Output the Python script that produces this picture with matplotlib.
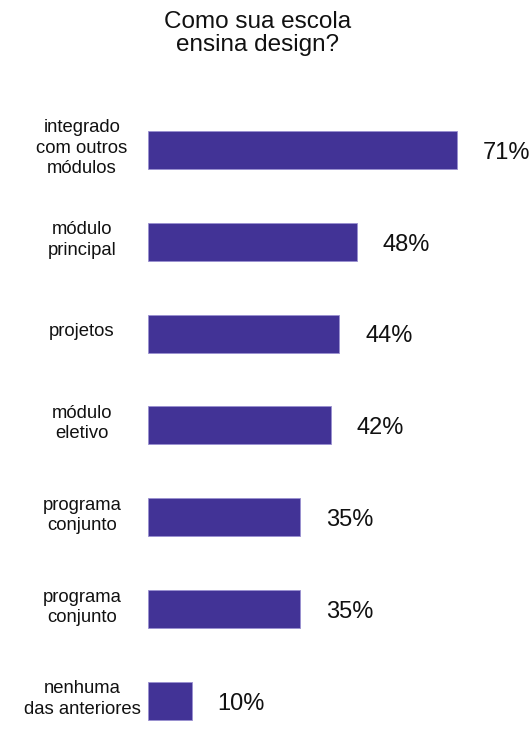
import matplotlib

matplotlib.use("Agg")
import matplotlib.pyplot as plt

plt.rcParams["font.family"] = ["Liberation Sans", "DejaVu Sans"]

categories = [
    "integrado\ncom outros\nmódulos",
    "módulo\nprincipal",
    "projetos",
    "módulo\neletivo",
    "programa\nconjunto",
    "programa\nconjunto",
    "nenhuma\ndas anteriores",
]
values = [71, 48, 44, 42, 35, 35, 10]
value_labels = ["71%", "48%", "44%", "42%", "35%", "35%", "10%"]

BAR_COLOR = "#423396"
W, H = 532, 733
PX_PER_UNIT = 4.35  # pixels per percentage point
ROW = 91.8          # pixels between bar centres
TOP = 150           # pixel y of first bar centre

fig = plt.figure(figsize=(W / 100, H / 100), dpi=100)
left_px, top_px = 148, 100
ax = fig.add_axes([left_px / W, 0, 1 - left_px / W, 1 - top_px / H])
ax.set_xlim(0, (W - left_px) / PX_PER_UNIT)
ax.set_ylim((H - TOP) / ROW, (top_px - TOP) / ROW)
ax.axis("off")

pos = list(range(len(values)))
ax.barh(pos, values, height=38 / ROW, color=BAR_COLOR,
        edgecolor="#9a90d0", linewidth=0.6)

for y, v, lab, cat in zip(pos, values, value_labels, categories):
    ax.text(v + 26 / PX_PER_UNIT, y + 0.03, lab, ha="left", va="center",
            fontsize=17, color="#111111")
    ax.text(-66 / PX_PER_UNIT, y - 0.02, cat, ha="center", va="center",
            fontsize=13.3, color="#111111", linespacing=1.25, clip_on=False)

fig.text(258 / W, 1 - 11 / H, "Como sua escola\nensina design?",
         ha="center", va="top", fontsize=17.5, color="#111111", linespacing=1.05)

fig.savefig("out.png", dpi=100)
